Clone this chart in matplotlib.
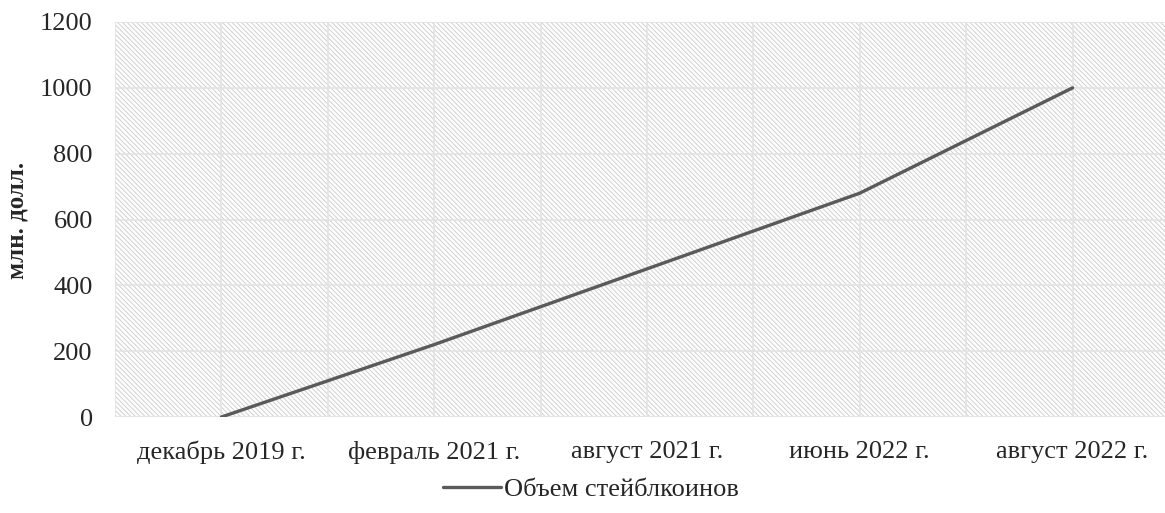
import matplotlib.pyplot as plt
import numpy as np

plt.rcParams['font.family'] = ['Liberation Serif', 'DejaVu Serif']
plt.rcParams['hatch.color'] = '#d0d0d0'
plt.rcParams['hatch.linewidth'] = 0.7

months = ['декабрь 2019 г.', 'февраль 2021 г.', 'август 2021 г.',
          'июнь 2022 г.', 'август 2022 г.']
volume = [0, 220, 450, 680, 1000]
y_ticks = [0, 200, 400, 600, 800, 1000, 1200]

fig = plt.figure(figsize=(11.65, 5.13), dpi=100)
ax = fig.add_axes([115 / 1165, 1 - 417 / 513, (1179 - 115) / 1165, (417 - 22) / 513])

x = np.arange(len(months))
ax.set_xlim(-0.5, len(months) - 0.5)
ax.set_ylim(0, 1200)

# hatched background
ax.patch.set_facecolor('white')
ax.fill_between([-0.5, len(months) - 0.5], 0, 1200, facecolor='white',
                hatch='\\' * 7, edgecolor='#d0d0d0', linewidth=0, zorder=0)

# grid: horizontal at ticks, vertical at categories and between them
for y in y_ticks:
    ax.axhline(y, color='#e3e3e3', lw=1.2, zorder=1)
for xv in np.arange(-0.5, len(months), 0.5):
    ax.axvline(xv, color='#e3e3e3', lw=1.2, zorder=1)

ax.plot(x, volume, color='#5a5a5a', lw=2.4, label='Объем стейблкоинов',
        solid_capstyle='round', zorder=3)

ax.set_xticks(x)
ax.set_xticklabels(months, fontsize=19)
ax.set_yticks(y_ticks)
ax.set_yticklabels([str(v) for v in y_ticks], fontsize=19)
ax.tick_params(axis='both', length=0, colors='#262626')
ax.tick_params(axis='y', pad=16)
ax.tick_params(axis='x', pad=17)
for s in ax.spines.values():
    s.set_visible(False)

fig.text(17 / 1165, 1 - 220 / 513, 'млн. долл.', rotation=90, fontsize=18,
         fontweight='bold', ha='center', va='center', color='#262626')

fig.legend(loc='center', bbox_to_anchor=(591 / 1165, 1 - 489 / 513),
           frameon=False, fontsize=19, handlelength=2.2, handletextpad=0.1,
           labelcolor='#262626')

fig.savefig('out.png', dpi=100)
